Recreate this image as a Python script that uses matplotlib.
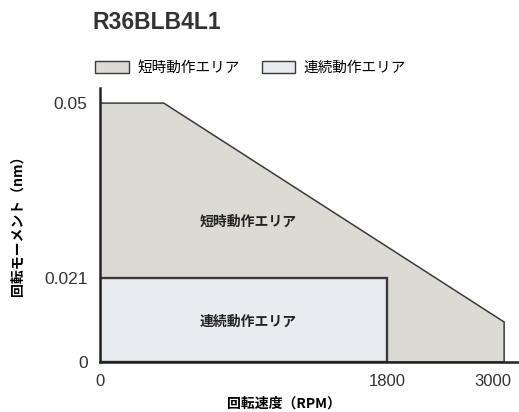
import numpy as np
import matplotlib
import matplotlib.pyplot as plt
import matplotlib.transforms as mtransforms
from matplotlib.patches import Patch

matplotlib.use("Agg")

plt.rcParams["font.family"] = ["Liberation Sans", "Noto Sans CJK JP"]

# ---------------------------------------------------------------------------
# Data
# ---------------------------------------------------------------------------
TITLE = "R36BLB4L1"
SHORT_LABEL = "短時動作エリア"
CONT_LABEL = "連続動作エリア"

short_speed = [0, 0, 400, 3000, 3000]
short_torque = [0, 0.05, 0.05, 0.01, 0]

cont_speed = [0, 0, 1800, 1800]
cont_torque = [0, 0.021, 0.021, 0]

x_ticks = [0, 1800, 3000]
y_ticks = [0, 0.021, 0.05]
y_tick_labels = ["0", "0.021", "0.05"]

SHORT_COLOR = "#dcdbd3"
CONT_COLOR = "#e8ebef"
EDGE = "#3a3a3a"
JP = ["Noto Sans CJK JP"]


# The printed axes are not linear: piecewise scales keep the ticks where they sit
def x_fwd(x):
    x = np.asarray(x, dtype=float)
    return np.where(x <= 1800, x, 1800 + (x - 1800) * 0.613)


def x_inv(x):
    x = np.asarray(x, dtype=float)
    return np.where(x <= 1800, x, 1800 + (x - 1800) / 0.613)


def y_fwd(y):
    y = np.asarray(y, dtype=float)
    return np.where(y <= 0.021, y, 0.021 + (y - 0.021) * 1.509)


def y_inv(y):
    y = np.asarray(y, dtype=float)
    return np.where(y <= 0.021, y, 0.021 + (y - 0.021) / 1.509)


fig = plt.figure(figsize=(5.19, 4.12), dpi=100)
ax = fig.add_axes([0.1927, 0.1214, 0.805, 0.665])
ax.set_xscale("function", functions=(x_fwd, x_inv))
ax.set_yscale("function", functions=(y_fwd, y_inv))

ax.fill(short_speed, short_torque, facecolor=SHORT_COLOR, edgecolor=EDGE, lw=1.1, zorder=2)
ax.fill(cont_speed, cont_torque, facecolor=CONT_COLOR, edgecolor=EDGE, lw=1.7, zorder=3)

ax.text(930, 0.0303, SHORT_LABEL, ha="center", va="center", fontsize=10,
        fontweight="bold", family=JP, color="#222", zorder=4)
ax.text(930, 0.0100, CONT_LABEL, ha="center", va="center", fontsize=10,
        fontweight="bold", family=JP, color="#222", zorder=4)

ax.set_xlim(0, 3140)
ax.set_ylim(0, 0.0525)
ax.set_xticks(x_ticks)
ax.set_xticklabels([str(v) for v in x_ticks], fontsize=12, color="#333")
ax.set_yticks(y_ticks)
ax.set_yticklabels(y_tick_labels, fontsize=12.5, color="#333")
ax.tick_params(axis="x", length=0, pad=9)
ax.tick_params(axis="y", length=0, pad=9)
ax.minorticks_off()

# the 3000 label sits a little left of its tick in the original
last = ax.get_xticklabels()[-1]
last.set_transform(last.get_transform()
                   + mtransforms.ScaledTranslation(-8 / 72, 0, fig.dpi_scale_trans))

for side in ("top", "right"):
    ax.spines[side].set_visible(False)
for side in ("left", "bottom"):
    ax.spines[side].set_linewidth(1.8)
    ax.spines[side].set_color("#222")
    ax.spines[side].set_zorder(5)

ax.set_xlabel("回転速度（RPM）", fontsize=10, fontweight="bold", family=JP)
ax.xaxis.set_label_coords(0.44, -0.125)
ax.set_ylabel("回転モーメント（nm）", fontsize=10, fontweight="bold", family=JP)
ax.yaxis.set_label_coords(-0.18, 0.51)

fig.text(0.178, 0.945, TITLE, fontsize=16.5, fontweight="bold", color="#333",
         ha="left", va="center")

handles = [
    Patch(facecolor=SHORT_COLOR, edgecolor=EDGE, label=SHORT_LABEL),
    Patch(facecolor=CONT_COLOR, edgecolor=EDGE, label=CONT_LABEL),
]
fig.legend(handles=handles, loc="center left", bbox_to_anchor=(0.158, 0.835),
           ncol=2, frameon=False, handlelength=2.3, handleheight=0.9,
           columnspacing=1.5, handletextpad=0.6,
           prop={"family": "Noto Sans CJK JP", "size": 10.5})

plt.savefig("out.png", dpi=100)
plt.close()
